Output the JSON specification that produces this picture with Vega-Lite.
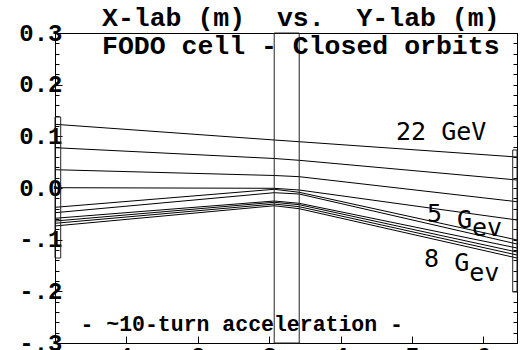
{
  "$schema": "https://vega.github.io/schema/vega-lite/v6.json",
  "width": 462,
  "height": 310,
  "autosize": {"type": "none"},
  "padding": {"left": 55, "top": 33, "right": 11, "bottom": 7},
  "background": "white",
  "config": {
    "view": {"stroke": "black", "strokeWidth": 1},
    "axis": {
      "domainColor": "black",
      "tickColor": "black",
      "labelColor": "black",
      "labelFont": "Liberation Mono",
      "labelFontWeight": "bold",
      "labelFontSize": 24,
      "labelFlush": false,
      "labelOverlap": false,
      "grid": false,
      "title": null
    }
  },
  "datasets": {
    "orbits": [
      {"orbit": 1, "s": 0, "pos": 0.1233}, {"orbit": 1, "s": 3.07, "pos": 0.0929}, {"orbit": 1, "s": 3.42, "pos": 0.0896}, {"orbit": 1, "s": 6.47, "pos": 0.0600},
      {"orbit": 2, "s": 0, "pos": 0.0780}, {"orbit": 2, "s": 3.07, "pos": 0.0571}, {"orbit": 2, "s": 3.42, "pos": 0.0536}, {"orbit": 2, "s": 6.47, "pos": 0.0155},
      {"orbit": 3, "s": 0, "pos": 0.0354}, {"orbit": 3, "s": 3.07, "pos": 0.0242}, {"orbit": 3, "s": 3.42, "pos": 0.0219}, {"orbit": 3, "s": 6.47, "pos": -0.0265},
      {"orbit": 4, "s": 0, "pos": 0.0006}, {"orbit": 4, "s": 3.07, "pos": -0.0006}, {"orbit": 4, "s": 3.42, "pos": -0.0039}, {"orbit": 4, "s": 6.47, "pos": -0.0619},
      {"orbit": 5, "s": 0, "pos": -0.0374}, {"orbit": 5, "s": 3.07, "pos": -0.0025}, {"orbit": 5, "s": 3.42, "pos": -0.0083}, {"orbit": 5, "s": 6.47, "pos": -0.1006},
      {"orbit": 6, "s": 0, "pos": -0.0478}, {"orbit": 6, "s": 3.07, "pos": -0.0091}, {"orbit": 6, "s": 3.42, "pos": -0.0116}, {"orbit": 6, "s": 6.47, "pos": -0.1084},
      {"orbit": 7, "s": 0, "pos": -0.0586}, {"orbit": 7, "s": 3.07, "pos": -0.0252}, {"orbit": 7, "s": 3.42, "pos": -0.0296}, {"orbit": 7, "s": 6.47, "pos": -0.1161},
      {"orbit": 8, "s": 0, "pos": -0.0639}, {"orbit": 8, "s": 3.07, "pos": -0.0277}, {"orbit": 8, "s": 3.42, "pos": -0.0323}, {"orbit": 8, "s": 6.47, "pos": -0.1239},
      {"orbit": 9, "s": 0, "pos": -0.0683}, {"orbit": 9, "s": 3.07, "pos": -0.0310}, {"orbit": 9, "s": 3.42, "pos": -0.0362}, {"orbit": 9, "s": 6.47, "pos": -0.1297},
      {"orbit": 10, "s": 0, "pos": -0.0735}, {"orbit": 10, "s": 3.07, "pos": -0.0343}, {"orbit": 10, "s": 3.42, "pos": -0.0401}, {"orbit": 10, "s": 6.47, "pos": -0.1355}
    ],
    "magnets": [
      {"name": "half quad (entry)", "s0": 0, "s1": 0.08, "lo": -0.1355, "hi": 0.1374},
      {"name": "quad", "s0": 3.07, "s1": 3.42, "lo": -0.3, "hi": 0.3},
      {"name": "half quad (exit)", "s0": 6.41, "s1": 6.47, "lo": -0.2013, "hi": 0.0736}
    ],
    "one": [{}]
  },
  "layer": [
    {
      "data": {"name": "orbits"},
      "mark": {"type": "line", "color": "black", "strokeWidth": 1},
      "encoding": {
        "x": {
          "field": "s", "type": "quantitative",
          "scale": {"domain": [0, 6.47], "nice": false, "zero": false},
          "axis": {
            "orient": "bottom",
            "values": [0, 1, 2, 3, 4, 5, 6],
            "tickSize": -7,
            "labelPadding": 8,
            "labelBaseline": "top"
          }
        },
        "y": {
          "field": "pos", "type": "quantitative",
          "scale": {"domain": [-0.3, 0.3], "nice": false, "zero": false},
          "axis": {
            "orient": "left",
            "values": [-0.3, -0.28, -0.26, -0.24, -0.22, -0.2, -0.18, -0.16, -0.14, -0.12, -0.1, -0.08, -0.06, -0.04, -0.02, 0, 0.02, 0.04, 0.06, 0.08, 0.1, 0.12, 0.14, 0.16, 0.18, 0.2, 0.22, 0.24, 0.26, 0.28, 0.3],
            "labelExpr": "abs(datum.value*10 - round(datum.value*10)) < 0.001 ? (datum.value < -0.001 ? '-.' + round(-datum.value*10) : '0.' + round(datum.value*10)) : ''",
            "tickSize": {"condition": {"test": "abs(datum.value*10 - round(datum.value*10)) < 0.001", "value": -7}, "value": -4},
            "labelPadding": 0,
            "labelBaseline": "middle"
          }
        },
        "detail": {"field": "orbit", "type": "nominal"}
      }
    },
    {
      "data": {"name": "magnets"},
      "mark": {"type": "rect", "fill": null, "fillOpacity": 0, "stroke": "#222", "strokeWidth": 1},
      "encoding": {
        "x": {"field": "s0", "type": "quantitative", "scale": {"domain": [0, 6.47], "nice": false, "zero": false}, "axis": null},
        "x2": {"field": "s1"},
        "y": {
          "field": "lo", "type": "quantitative",
          "scale": {"domain": [-0.3, 0.3], "nice": false, "zero": false},
          "axis": {
            "orient": "right",
            "values": [-0.3, -0.28, -0.26, -0.24, -0.22, -0.2, -0.18, -0.16, -0.14, -0.12, -0.1, -0.08, -0.06, -0.04, -0.02, 0, 0.02, 0.04, 0.06, 0.08, 0.1, 0.12, 0.14, 0.16, 0.18, 0.2, 0.22, 0.24, 0.26, 0.28, 0.3],
            "labels": false,
            "tickSize": -4
          }
        },
        "y2": {"field": "hi"}
      }
    },
    {
      "data": {"name": "one"},
      "mark": {"type": "text", "font": "Liberation Mono", "fontWeight": "bold", "fontSize": 26.5, "align": "left", "baseline": "alphabetic", "color": "black"},
      "encoding": {
        "x": {"datum": 0.658, "type": "quantitative", "scale": {"domain": [0, 6.47], "nice": false, "zero": false}, "axis": null},
        "y": {"datum": 0.3135, "type": "quantitative", "scale": {"domain": [-0.3, 0.3], "nice": false, "zero": false}, "axis": null},
        "text": {"value": "X-lab (m)\u00a0\u00a0vs.\u00a0\u00a0Y-lab (m)"}
      }
    },
    {
      "data": {"name": "one"},
      "mark": {"type": "text", "font": "Liberation Mono", "fontWeight": "bold", "fontSize": 26.5, "align": "left", "baseline": "alphabetic", "color": "black"},
      "encoding": {
        "x": {"datum": 0.658, "type": "quantitative", "scale": {"domain": [0, 6.47], "nice": false, "zero": false}, "axis": null},
        "y": {"datum": 0.2594, "type": "quantitative", "scale": {"domain": [-0.3, 0.3], "nice": false, "zero": false}, "axis": null},
        "text": {"value": "FODO cell - Closed orbits"}
      }
    },
    {
      "data": {"name": "one"},
      "mark": {"type": "text", "font": "Liberation Mono", "fontWeight": "bold", "fontSize": 21.5, "align": "left", "baseline": "alphabetic", "color": "black"},
      "encoding": {
        "x": {"datum": 0.356, "type": "quantitative", "scale": {"domain": [0, 6.47], "nice": false, "zero": false}, "axis": null},
        "y": {"datum": -0.2777, "type": "quantitative", "scale": {"domain": [-0.3, 0.3], "nice": false, "zero": false}, "axis": null},
        "text": {"value": "- ~10-turn acceleration -"}
      }
    },
    {
      "data": {"name": "one"},
      "mark": {"type": "text", "font": "DejaVu Sans Mono", "fontSize": 25, "align": "left", "baseline": "alphabetic", "color": "black"},
      "encoding": {
        "x": {"datum": 4.776, "type": "quantitative", "scale": {"domain": [0, 6.47], "nice": false, "zero": false}, "axis": null},
        "y": {"datum": 0.0929, "type": "quantitative", "scale": {"domain": [-0.3, 0.3], "nice": false, "zero": false}, "axis": null},
        "text": {"value": "22 GeV"}
      }
    },
    {
      "data": {"name": "one"},
      "mark": {"type": "text", "font": "DejaVu Sans Mono", "fontSize": 25, "align": "left", "baseline": "alphabetic", "color": "black"},
      "encoding": {
        "x": {"datum": 5.21, "type": "quantitative", "scale": {"domain": [0, 6.47], "nice": false, "zero": false}, "axis": null},
        "y": {"datum": -0.0658, "type": "quantitative", "scale": {"domain": [-0.3, 0.3], "nice": false, "zero": false}, "axis": null},
        "text": {"value": "5"}
      }
    },
    {
      "data": {"name": "one"},
      "mark": {"type": "text", "font": "DejaVu Sans Mono", "fontSize": 25, "align": "left", "baseline": "alphabetic", "color": "black"},
      "encoding": {
        "x": {"datum": 5.63, "type": "quantitative", "scale": {"domain": [0, 6.47], "nice": false, "zero": false}, "axis": null},
        "y": {"datum": -0.0774, "type": "quantitative", "scale": {"domain": [-0.3, 0.3], "nice": false, "zero": false}, "axis": null},
        "text": {"value": "G"}
      }
    },
    {
      "data": {"name": "one"},
      "mark": {"type": "text", "font": "DejaVu Sans Mono", "fontSize": 25, "align": "left", "baseline": "alphabetic", "color": "black"},
      "encoding": {
        "x": {"datum": 5.84, "type": "quantitative", "scale": {"domain": [0, 6.47], "nice": false, "zero": false}, "axis": null},
        "y": {"datum": -0.0929, "type": "quantitative", "scale": {"domain": [-0.3, 0.3], "nice": false, "zero": false}, "axis": null},
        "text": {"value": "ev"}
      }
    },
    {
      "data": {"name": "one"},
      "mark": {"type": "text", "font": "DejaVu Sans Mono", "fontSize": 25, "align": "left", "baseline": "alphabetic", "color": "black"},
      "encoding": {
        "x": {"datum": 5.168, "type": "quantitative", "scale": {"domain": [0, 6.47], "nice": false, "zero": false}, "axis": null},
        "y": {"datum": -0.1529, "type": "quantitative", "scale": {"domain": [-0.3, 0.3], "nice": false, "zero": false}, "axis": null},
        "text": {"value": "8"}
      }
    },
    {
      "data": {"name": "one"},
      "mark": {"type": "text", "font": "DejaVu Sans Mono", "fontSize": 25, "align": "left", "baseline": "alphabetic", "color": "black"},
      "encoding": {
        "x": {"datum": 5.59, "type": "quantitative", "scale": {"domain": [0, 6.47], "nice": false, "zero": false}, "axis": null},
        "y": {"datum": -0.1606, "type": "quantitative", "scale": {"domain": [-0.3, 0.3], "nice": false, "zero": false}, "axis": null},
        "text": {"value": "G"}
      }
    },
    {
      "data": {"name": "one"},
      "mark": {"type": "text", "font": "DejaVu Sans Mono", "fontSize": 25, "align": "left", "baseline": "alphabetic", "color": "black"},
      "encoding": {
        "x": {"datum": 5.80, "type": "quantitative", "scale": {"domain": [0, 6.47], "nice": false, "zero": false}, "axis": null},
        "y": {"datum": -0.180, "type": "quantitative", "scale": {"domain": [-0.3, 0.3], "nice": false, "zero": false}, "axis": null},
        "text": {"value": "ev"}
      }
    }
  ],
  "resolve": {"axis": {"x": "independent", "y": "independent"}}
}
